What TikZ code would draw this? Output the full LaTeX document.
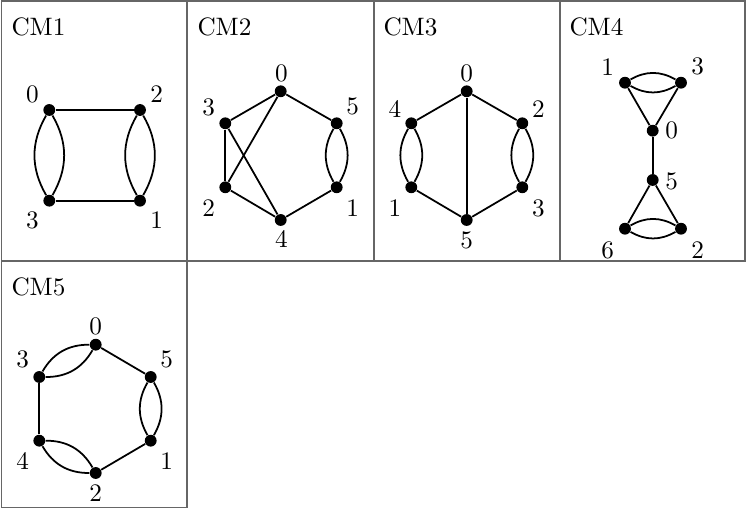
\documentclass[tikz,border=0pt]{standalone}
\begin{document}
\begin{tikzpicture}[x=0.397pt,y=-0.397pt,
 vtx/.style={circle,fill=black,inner sep=0pt,minimum size=4.7pt},
 edge/.style={line width=0.7pt},
 lab/.style={inner sep=0pt},
 ttl/.style={anchor=base west,inner sep=0pt},
 frame/.style={line width=0.75pt,black!60}]
\useasboundingbox (0,0) rectangle (746,508);
% table frame
\draw[frame] (1.5,507.5) -- (1.5,1) -- (745,1) -- (745,261.3) -- (1.5,261.3);
\draw[frame] (1.5,507.5) -- (187.3,507.5) -- (187.3,1);
\draw[frame] (373.7,1) -- (373.7,261.3);
\draw[frame] (559.7,1) -- (559.7,261.3);

% CM1
\node[ttl] (t1) at (11,36) {CM1};
\node[vtx] (a0) at (49.3,110) {};
\node[vtx] (a2) at (140,110) {};
\node[vtx] (a3) at (49.3,200.7) {};
\node[vtx] (a1) at (140,200.7) {};
\node[lab] (la0) at (32.3,94) {0};
\node[lab] (la2) at (156.7,94) {2};
\node[lab] (la3) at (32.3,220) {3};
\node[lab] (la1) at (156.7,220) {1};
\draw[edge] (a0) -- (a2);
\draw[edge] (a3) -- (a1);
\draw[edge] (a0) to[bend right=30] (a3);
\draw[edge] (a0) to[bend left=30] (a3);
\draw[edge] (a2) to[bend right=30] (a1);
\draw[edge] (a2) to[bend left=30] (a1);

% CM2
\node[ttl] (t2) at (197,36) {CM2};
\node[vtx] (b0) at (280.7,91.3) {};
\node[vtx] (b5) at (336.7,123.3) {};
\node[vtx] (b1) at (336.7,187.3) {};
\node[vtx] (b4) at (280.7,220) {};
\node[vtx] (b2) at (225.3,187.3) {};
\node[vtx] (b3) at (225.3,123.3) {};
\node[lab] (lb0) at (281.3,73.3) {0};
\node[lab] (lb5) at (352.7,106) {5};
\node[lab] (lb1) at (352.7,208.3) {1};
\node[lab] (lb4) at (281.3,239.3) {4};
\node[lab] (lb2) at (208.7,208.3) {2};
\node[lab] (lb3) at (208.7,107.3) {3};
\draw[edge] (b0) -- (b3);
\draw[edge] (b0) -- (b5);
\draw[edge] (b0) -- (b2);
\draw[edge] (b3) -- (b2);
\draw[edge] (b3) -- (b4);
\draw[edge] (b2) -- (b4);
\draw[edge] (b4) -- (b1);
\draw[edge] (b5) to[bend right=30] (b1);
\draw[edge] (b5) to[bend left=30] (b1);

% CM3
\node[ttl] (t3) at (383,36) {CM3};
\node[vtx] (c0) at (466.7,91.3) {};
\node[vtx] (c2) at (522.3,123.3) {};
\node[vtx] (c3) at (522.3,187.3) {};
\node[vtx] (c5) at (466.7,220) {};
\node[vtx] (c1) at (411.3,187.3) {};
\node[vtx] (c4) at (411.3,123.3) {};
\node[lab] (lc0) at (466.7,73.3) {0};
\node[lab] (lc4) at (395,109) {4};
\node[lab] (lc2) at (538.3,109) {2};
\node[lab] (lc1) at (395,208) {1};
\node[lab] (lc3) at (538.3,208) {3};
\node[lab] (lc5) at (466.7,240) {5};
\draw[edge] (c0) -- (c4);
\draw[edge] (c0) -- (c2);
\draw[edge] (c0) -- (c5);
\draw[edge] (c1) -- (c5);
\draw[edge] (c3) -- (c5);
\draw[edge] (c4) to[bend right=30] (c1);
\draw[edge] (c4) to[bend left=30] (c1);
\draw[edge] (c2) to[bend right=30] (c3);
\draw[edge] (c2) to[bend left=30] (c3);

% CM4
\node[ttl] (t4) at (569,36) {CM4};
\node[vtx] (d1) at (625,82.7) {};
\node[vtx] (d3) at (681,82.7) {};
\node[vtx] (d0) at (652.7,130.7) {};
\node[vtx] (d5) at (652.7,180) {};
\node[vtx] (d6) at (625,228.7) {};
\node[vtx] (d2) at (681,228.7) {};
\node[lab] (ld1) at (607.7,66.7) {1};
\node[lab] (ld3) at (697.7,66.7) {3};
\node[lab] (ld0) at (671.7,130.7) {0};
\node[lab] (ld5) at (671.7,181.7) {5};
\node[lab] (ld6) at (607.7,250) {6};
\node[lab] (ld2) at (697.7,250) {2};
\draw[edge] (d1) to[bend right=30] (d3);
\draw[edge] (d1) to[bend left=30] (d3);
\draw[edge] (d1) -- (d0);
\draw[edge] (d3) -- (d0);
\draw[edge] (d0) -- (d5);
\draw[edge] (d5) -- (d6);
\draw[edge] (d5) -- (d2);
\draw[edge] (d6) to[bend right=30] (d2);
\draw[edge] (d6) to[bend left=30] (d2);

% CM5
\node[ttl] (t5) at (11,296) {CM5};
\node[vtx] (e0) at (95.7,344.7) {};
\node[vtx] (e5) at (150.7,377) {};
\node[vtx] (e1) at (150.7,440.7) {};
\node[vtx] (e2) at (95.7,473) {};
\node[vtx] (e4) at (39.3,440.7) {};
\node[vtx] (e3) at (39.3,377) {};
\node[lab] (le0) at (95.7,326.3) {0};
\node[lab] (le5) at (166.7,359.7) {5};
\node[lab] (le1) at (166.7,461.3) {1};
\node[lab] (le2) at (95.7,493) {2};
\node[lab] (le4) at (22.7,461.3) {4};
\node[lab] (le3) at (22.7,359.7) {3};
\draw[edge] (e0) to[bend right=30] (e3);
\draw[edge] (e0) to[bend left=30] (e3);
\draw[edge] (e0) -- (e5);
\draw[edge] (e5) to[bend right=30] (e1);
\draw[edge] (e5) to[bend left=30] (e1);
\draw[edge] (e1) -- (e2);
\draw[edge] (e2) to[bend right=30] (e4);
\draw[edge] (e2) to[bend left=30] (e4);
\draw[edge] (e4) -- (e3);
\end{tikzpicture}
\end{document}
